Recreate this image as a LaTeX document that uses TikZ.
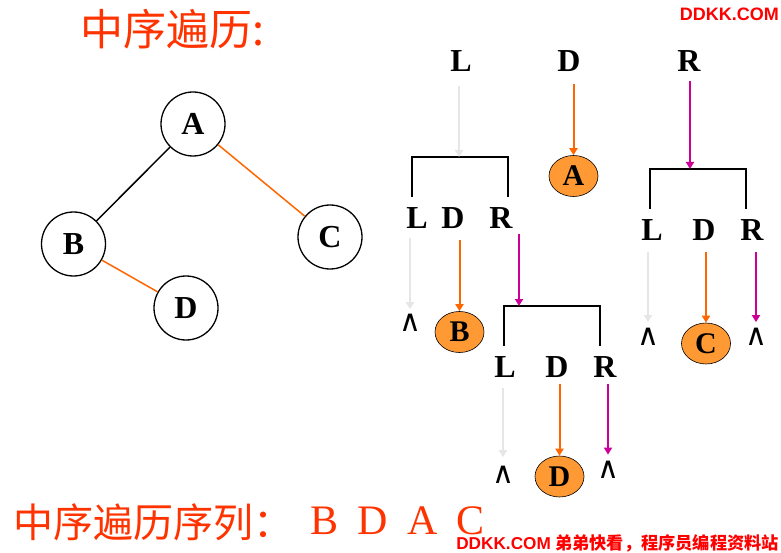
\documentclass[tikz,border=0pt]{standalone}
\usepackage{fontspec}
\setmainfont{Liberation Serif}
\setsansfont{Liberation Sans}
\newfontfamily\cjk{Noto Sans CJK SC}
\newfontfamily\dejavu{DejaVu Sans}
\usetikzlibrary{arrows.meta,shapes.geometric}
\definecolor{titlered}{HTML}{FF3300}
\definecolor{wmred}{HTML}{FF0000}
\definecolor{lineorange}{HTML}{FF6600}
\definecolor{fillorange}{HTML}{FF9933}
\definecolor{magline}{HTML}{CC0099}
\definecolor{grayline}{HTML}{E6E6E6}
\begin{document}
\begin{tikzpicture}[x=1pt,y=-1pt,
  treenode/.style={circle,draw,line width=1.3pt,minimum size=64pt,inner sep=0pt,font=\fontsize{32}{32}\selectfont\bfseries},
  treeedge/.style={line width=1.5pt},
  letter/.style={inner sep=0pt,font=\fontsize{32}{32}\selectfont\bfseries},
  visit/.style={ellipse,draw,fill=fillorange,line width=0.6pt,minimum width=49pt,minimum height=41pt,inner sep=0pt,font=\fontsize{30}{30}\selectfont\bfseries},
  nil/.style={inner sep=0pt,font=\dejavu\fontsize{30}{30}\selectfont},
  bracketline/.style={line width=1.8pt},
  arr/.style={line width=2pt,-{Triangle[width=8pt,length=7pt]}},
  garr/.style={arr,draw=grayline},
  oarr/.style={arr,draw=lineorange},
  marr/.style={arr,draw=magline}
]
\fill[white] (0,0) rectangle (781,553);
\useasboundingbox (0,0) rectangle (781,553);

% title
\node[text=titlered,font=\cjk\fontsize{43}{43}\selectfont,inner sep=0pt] (title) at (172,29) {中序遍历:};

% tree
\node[treenode] (A) at (193,124) {A};
\node[treenode] (B) at (73.5,244) {B};
\node[treenode] (C) at (330,237) {C};
\node[treenode] (D) at (186,308) {D};
\draw[treeedge] (A) -- (B);
\draw[treeedge,draw=lineorange] (A) -- (C);
\draw[treeedge,draw=lineorange] (B) -- (D);

% level 0
\node[letter] (L0) at (461,61) {L};
\node[letter] (D0) at (569,61) {D};
\node[letter] (R0) at (689,61) {R};
\node[visit] (eA) at (573.5,176) {A};
\coordinate (br1) at (459,157);
\coordinate (br2) at (690,169);
\draw[bracketline] (412,197) -- (412,157) -- (508,157) -- (508,197);
\draw[bracketline] (650,209) -- (650,169) -- (746,169) -- (746,209);
\draw[garr,shorten <=14pt] (L0.south -| br1) -- (br1);
\draw[oarr,shorten <=12pt] (D0.south -| eA.north) -- (eA.north);
\draw[marr,shorten <=9.5pt] (R0.south -| br2) -- (br2);

% level 1 left
\node[letter] (L1) at (417,218) {L};
\node[letter] (D1) at (453,218) {D};
\node[letter] (R1) at (501,218) {R};
\node[nil] (w1) at (410,323) {∧};
\node[visit] (eB) at (459.5,332) {B};
\coordinate (br3) at (519,306);
\draw[bracketline] (504,346) -- (504,306) -- (600,306) -- (600,346);
\draw[garr,shorten <=9.5pt,shorten >=5pt] (L1.south -| w1.north) -- (w1.north);
\draw[oarr,shorten <=11pt] (D1.south -| eB.north) -- (eB.north);
\draw[marr,shorten <=5.5pt] (R1.south -| br3) -- (br3);

% level 2
\node[letter] (L2) at (505,367) {L};
\node[letter] (D2) at (557,367) {D};
\node[letter] (R2) at (605,367) {R};
\node[nil] (w3) at (503,475) {∧};
\node[visit] (eD) at (559.5,476.5) {D};
\node[nil] (w4) at (608,469.5) {∧};
\draw[garr,shorten <=10pt,shorten >=9pt] (L2.south -| w3.north) -- (w3.north);
\draw[oarr,shorten <=6pt] (D2.south -| eD.north) -- (eD.north);
\draw[marr,shorten <=6pt,shorten >=6pt] (R2.south -| w4.north) -- (w4.north);

% level 1 right
\node[letter] (L3) at (652,230) {L};
\node[letter] (D3) at (704,230) {D};
\node[letter] (R3) at (752,230) {R};
\node[nil] (w5) at (648,337) {∧};
\node[visit] (eC) at (706,343.5) {C};
\node[nil] (w6) at (756,337) {∧};
\draw[garr,shorten <=11pt,shorten >=6pt] (L3.south -| w5.north) -- (w5.north);
\draw[oarr,shorten <=11pt] (D3.south -| eC.north) -- (eC.north);
\draw[marr,shorten <=11pt,shorten >=6pt] (R3.south -| w6.north) -- (w6.north);

% result sequence
\node[text=titlered,font=\cjk\fontsize{40}{40}\selectfont,inner sep=0pt,anchor=west] (seq) at (13,522) {中序遍历序列：};
\node[text=titlered,font=\fontsize{42}{42}\selectfont,inner sep=0pt] (sB) at (324.5,521) {B};
\node[text=titlered,font=\fontsize{42}{42}\selectfont,inner sep=0pt] (sD) at (372.5,521) {D};
\node[text=titlered,font=\fontsize{42}{42}\selectfont,inner sep=0pt] (sA) at (423,521) {A};
\node[text=titlered,font=\fontsize{42}{42}\selectfont,inner sep=0pt] (sC) at (470.5,521) {C};

% watermarks
\node[text=wmred,inner sep=0pt,anchor=east,font=\sffamily\bfseries\fontsize{18}{18}\selectfont] (wm1) at (779,14) {DDKK.COM};
\node[text=wmred,inner sep=0pt,anchor=east,font=\fontsize{17.2}{17.2}\selectfont] (wm2) at (779,543) {{\sffamily\bfseries DDKK.COM} {\cjk\bfseries 弟弟快看，程序员编程资料站}};
\end{tikzpicture}
\end{document}
